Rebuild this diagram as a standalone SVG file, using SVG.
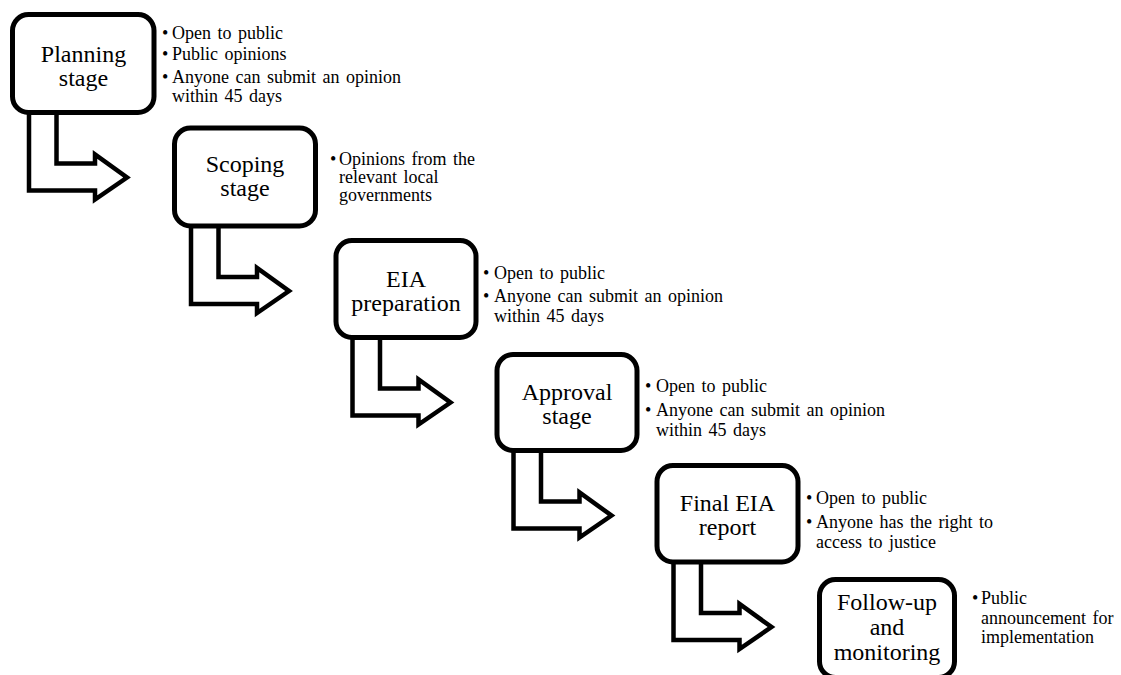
<svg xmlns="http://www.w3.org/2000/svg" width="1121" height="675" viewBox="0 0 1121 675">
  <style>
    .box { fill: #ffffff; stroke: #000000; stroke-width: 5; }
    .arrow { fill: none; stroke: #000000; stroke-width: 4.5; stroke-linejoin: miter; }
    .title { font-family: "Liberation Serif", "Times New Roman", serif; font-size: 24px; fill: #000000; text-anchor: middle; }
    .note { font-family: "Liberation Serif", "Times New Roman", serif; font-size: 18px; word-spacing: 2px; fill: #000000; }
  </style>
  <rect width="1121" height="675" fill="#ffffff"/>

  <!-- connectors: bent block arrows leading from each stage to the next -->
  <g id="connectors">
    <path class="arrow" d="M29,113 V190.5 H95 V199.5 L127,177.5 L95,154.5 V163.5 H56.5 V113"/>
    <path class="arrow" d="M191,226.5 V304 H257 V313 L289,291 L257,268 V277 H218.5 V226.5"/>
    <path class="arrow" d="M352.5,337.5 V415.5 H418.5 V424.5 L450.5,402.5 L418.5,379.5 V388.5 H380 V337.5"/>
    <path class="arrow" d="M513.5,450.5 V528.5 H579.5 V537.5 L611.5,515.5 L579.5,492.5 V501.5 H541 V450.5"/>
    <path class="arrow" d="M673.5,562 V640 H739.5 V649 L771.5,627 L739.5,604 V613 H701 V562"/>
  </g>

  <g id="planning">
    <rect class="box" x="12.5" y="14.5" width="141.5" height="98" rx="16"/>
    <text class="title" x="83.5" y="62">Planning</text>
    <text class="title" x="83.5" y="85.5">stage</text>
    <text class="note" x="162" y="38.5">•</text>
    <text class="note" x="172" y="38.5">Open to public</text>
    <text class="note" x="162" y="60">•</text>
    <text class="note" x="172" y="60">Public opinions</text>
    <text class="note" x="162" y="82.5">•</text>
    <text class="note" x="172" y="82.5">Anyone can submit an opinion</text>
    <text class="note" x="172" y="101.5">within 45 days</text>
  </g>

  <g id="scoping">
    <rect class="box" x="174.5" y="128" width="141" height="98" rx="16"/>
    <text class="title" x="245" y="171.5">Scoping</text>
    <text class="title" x="245" y="196">stage</text>
    <text class="note" x="330" y="165">•</text>
    <text class="note" x="339" y="165">Opinions from the</text>
    <text class="note" x="339" y="183">relevant local</text>
    <text class="note" x="339" y="201">governments</text>
  </g>

  <g id="eia-preparation">
    <rect class="box" x="336" y="240.5" width="140" height="97" rx="16"/>
    <text class="title" x="406" y="286.5">EIA</text>
    <text class="title" x="406" y="310.5">preparation</text>
    <text class="note" x="483" y="278.5">•</text>
    <text class="note" x="494" y="278.5">Open to public</text>
    <text class="note" x="483" y="302">•</text>
    <text class="note" x="494" y="302">Anyone can submit an opinion</text>
    <text class="note" x="494" y="321.5">within 45 days</text>
  </g>

  <g id="approval">
    <rect class="box" x="497" y="354.5" width="140" height="96" rx="16"/>
    <text class="title" x="567" y="400">Approval</text>
    <text class="title" x="567" y="423.5">stage</text>
    <text class="note" x="645" y="392">•</text>
    <text class="note" x="656" y="392">Open to public</text>
    <text class="note" x="645" y="416">•</text>
    <text class="note" x="656" y="416">Anyone can submit an opinion</text>
    <text class="note" x="656" y="436">within 45 days</text>
  </g>

  <g id="final-eia-report">
    <rect class="box" x="657" y="465.5" width="141" height="96.5" rx="16"/>
    <text class="title" x="727.5" y="511">Final EIA</text>
    <text class="title" x="727.5" y="535">report</text>
    <text class="note" x="806" y="503.5">•</text>
    <text class="note" x="816" y="503.5">Open to public</text>
    <text class="note" x="806" y="528">•</text>
    <text class="note" x="816" y="528">Anyone has the right to</text>
    <text class="note" x="816" y="547.5">access to justice</text>
  </g>

  <g id="follow-up">
    <rect class="box" x="819.5" y="579.5" width="135" height="98" rx="16"/>
    <text class="title" x="887" y="610">Follow-up</text>
    <text class="title" x="887" y="635">and</text>
    <text class="title" x="887" y="660">monitoring</text>
    <text class="note" x="972" y="604">•</text>
    <text class="note" x="981" y="604">Public</text>
    <text class="note" x="981" y="624">announcement for</text>
    <text class="note" x="981" y="643">implementation</text>
  </g>
</svg>
